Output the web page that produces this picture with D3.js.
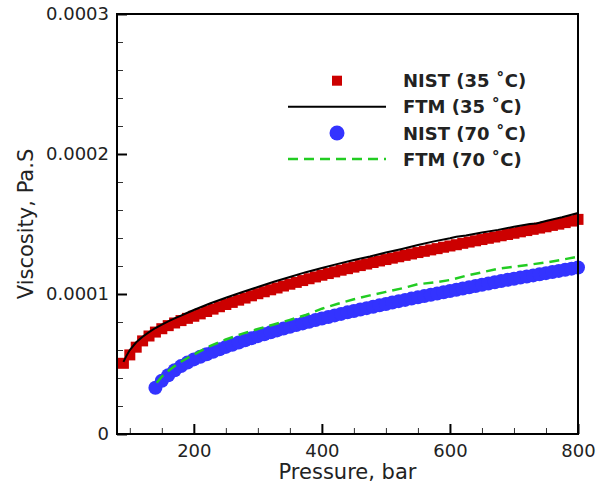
<!DOCTYPE html>
<html>
<head>
<meta charset="utf-8">
<script src="https://cdn.jsdelivr.net/npm/d3@7"></script>
<style>
  html, body { margin: 0; padding: 0; background: #fff; }
  svg { display: block; }
  text { font-family: "DejaVu Sans", sans-serif; fill: #222; }
</style>
</head>
<body>
<svg id="chart" width="598" height="489"></svg>
<script>
// ---------- data (viscosity in Pa.s, pressure in bar) ----------
const nist35P = [90,100,110,120,130,140,150,160,170,180,190,200,210,220,230,240,250,260,270,280,290,300,310,320,330,340,350,360,370,380,390,400,410,420,430,440,450,460,470,480,490,500,510,520,530,540,550,560,570,580,590,600,610,620,630,640,650,660,670,680,690,700,710,720,730,740,750,760,770,780,790,800];
const nist35V = [0.505,0.565,0.62,0.665,0.70,0.728,0.752,0.774,0.793,0.810,0.826,0.841,0.858,0.875,0.892,0.909,0.925,0.940,0.956,0.971,0.987,1.002,1.016,1.030,1.043,1.057,1.070,1.083,1.096,1.109,1.122,1.134,1.146,1.158,1.170,1.181,1.192,1.203,1.214,1.225,1.236,1.246,1.256,1.266,1.276,1.286,1.296,1.305,1.315,1.324,1.334,1.343,1.352,1.362,1.371,1.380,1.389,1.398,1.407,1.416,1.425,1.434,1.444,1.453,1.462,1.471,1.480,1.490,1.499,1.510,1.521,1.533];

const ftm35P = [90,95,100,110,120,130,140,150,160,170,180,190,200,225,250,275,300,325,350,375,400,425,450,475,500,525,550,575,600,610,625,650,675,700,725,735,750,775,800];
const ftm35V = [0.515,0.56,0.60,0.655,0.695,0.728,0.757,0.782,0.805,0.826,0.846,0.866,0.886,0.932,0.973,1.012,1.050,1.087,1.121,1.156,1.186,1.215,1.243,1.268,1.296,1.322,1.350,1.376,1.398,1.409,1.418,1.440,1.458,1.480,1.500,1.504,1.522,1.548,1.578];

const nist70P = [140,150,160,170,180,190,200,210,220,230,240,250,260,270,280,290,300,310,320,330,340,350,360,370,380,390,400,410,420,430,440,450,460,470,480,490,500,510,520,530,540,550,560,570,580,590,600,610,620,630,640,650,660,670,680,690,700,710,720,730,740,750,760,770,780,790,800];
const nist70V = [0.33,0.38,0.42,0.455,0.485,0.51,0.533,0.552,0.570,0.588,0.605,0.622,0.638,0.654,0.669,0.684,0.699,0.713,0.727,0.740,0.753,0.766,0.778,0.790,0.802,0.814,0.825,0.836,0.847,0.858,0.869,0.879,0.889,0.899,0.909,0.919,0.929,0.939,0.949,0.958,0.967,0.976,0.985,0.994,1.003,1.012,1.021,1.030,1.039,1.048,1.057,1.066,1.075,1.084,1.093,1.101,1.109,1.117,1.125,1.133,1.141,1.149,1.157,1.165,1.173,1.181,1.189];

const ftm70P = [142,150,160,170,180,190,200,225,250,275,300,325,350,375,400,425,450,475,500,525,550,575,600,625,650,675,700,725,750,775,800];
const ftm70V = [0.366,0.41,0.45,0.485,0.516,0.543,0.568,0.627,0.675,0.715,0.75,0.782,0.815,0.85,0.895,0.93,0.962,0.99,1.015,1.04,1.07,1.082,1.10,1.13,1.155,1.18,1.195,1.21,1.225,1.245,1.266];

const unit = 1e-4; // values above are in units of 1e-4 Pa.s

const xMajor = [200, 400, 600, 800];
const xMinor = [100,150,250,300,350,450,500,550,650,700,750];
const yMajor = [0, 0.0001, 0.0002, 0.0003];
const yMajorLabels = ["0", "0.0001", "0.0002", "0.0003"];
const yMinor = [0.00002,0.00004,0.00006,0.00008,0.00012,0.00014,0.00016,0.00018,0.00022,0.00024,0.00026,0.00028];

const legendLabels = ["NIST (35 \u02DAC)", "FTM (35 \u02DAC)", "NIST (70 \u02DAC)", "FTM (70 \u02DAC)"];
const xTitle = "Pressure, bar";
const yTitle = "Viscosity, Pa.S";

// ---------- styles ----------
const red = "#cc0000", blue = "#3333ff", green = "#22cc22", black = "#000";

// ---------- layout ----------
const svg = d3.select("#chart");
const L = 117, R = 578, T = 14, B = 434;
const x = d3.scaleLinear().domain([80, 800]).range([L, R]);
const y = d3.scaleLinear().domain([0, 0.0003]).range([B, T]);

const zip = (P, V) => P.map((p, i) => ({p, v: V[i] * unit}));
const n35 = zip(nist35P, nist35V), f35 = zip(ftm35P, ftm35V);
const n70 = zip(nist70P, nist70V), f70 = zip(ftm70P, ftm70V);

// NIST 35 squares
const sq = 11;
svg.append("g").selectAll("rect").data(n35).join("rect")
  .attr("x", d => x(d.p) - sq/2).attr("y", d => y(d.v) - sq/2)
  .attr("width", sq).attr("height", sq).attr("fill", red);

// FTM 35 line
const line = d3.line().x(d => x(d.p)).y(d => y(d.v));
svg.append("path").datum(f35).attr("d", line)
  .attr("fill", "none").attr("stroke", black).attr("stroke-width", 2);

// NIST 70 circles
svg.append("g").selectAll("circle").data(n70).join("circle")
  .attr("cx", d => x(d.p)).attr("cy", d => y(d.v)).attr("r", 7).attr("fill", blue);

// FTM 70 dashed
svg.append("path").datum(f70).attr("d", line)
  .attr("fill", "none").attr("stroke", green).attr("stroke-width", 2.5)
  .attr("stroke-dasharray", "10,6");

// ---------- axes ----------
const xAxisMaj = d3.axisBottom(x).tickValues(xMajor).tickSizeInner(-10).tickSizeOuter(0).tickPadding(10);
const gx = svg.append("g").attr("transform", `translate(0,${B})`).call(xAxisMaj);
gx.select(".domain").remove();
gx.selectAll(".tick line").attr("stroke", black).attr("stroke-width", 2);
gx.selectAll(".tick text").attr("font-size", 18).attr("font-family", "DejaVu Sans").attr("fill", "#222");

const xAxisMin = d3.axisBottom(x).tickValues(xMinor).tickSizeInner(-6).tickSizeOuter(0).tickFormat("");
const gxm = svg.append("g").attr("transform", `translate(0,${B})`).call(xAxisMin);
gxm.select(".domain").remove();
gxm.selectAll(".tick line").attr("stroke", "#333").attr("stroke-width", 1);

const yAxisMaj = d3.axisLeft(y).tickValues(yMajor).tickSizeInner(-10).tickSizeOuter(0).tickPadding(8)
  .tickFormat((d, i) => yMajorLabels[i]);
const gy = svg.append("g").attr("transform", `translate(${L},0)`).call(yAxisMaj);
gy.select(".domain").remove();
gy.selectAll(".tick line").attr("stroke", black).attr("stroke-width", 2);
gy.selectAll(".tick text").attr("font-size", 18).attr("font-family", "DejaVu Sans").attr("fill", "#222");

const yAxisMin = d3.axisLeft(y).tickValues(yMinor).tickSizeInner(-6).tickSizeOuter(0).tickFormat("");
const gym = svg.append("g").attr("transform", `translate(${L},0)`).call(yAxisMin);
gym.select(".domain").remove();
gym.selectAll(".tick line").attr("stroke", "#333").attr("stroke-width", 1);

// frame
svg.append("rect").attr("x", L).attr("y", T).attr("width", R - L).attr("height", B - T)
  .attr("fill", "none").attr("stroke", black).attr("stroke-width", 2);

// titles
svg.append("text").attr("x", (L + R) / 2).attr("y", 479).attr("text-anchor", "middle")
  .attr("font-size", 21).text(xTitle);
svg.append("text").attr("transform", `translate(33,${(T + B) / 2}) rotate(-90)`)
  .attr("text-anchor", "middle").attr("font-size", 21).text(yTitle);

// ---------- legend ----------
const legY = [80.7, 106.7, 133, 159];
const lg = svg.append("g");
lg.append("rect").attr("x", 337 - 5).attr("y", legY[0] - 5).attr("width", 10).attr("height", 10).attr("fill", red);
lg.append("line").attr("x1", 288).attr("x2", 386).attr("y1", legY[1]).attr("y2", legY[1])
  .attr("stroke", black).attr("stroke-width", 2);
lg.append("circle").attr("cx", 337).attr("cy", legY[2]).attr("r", 7.5).attr("fill", blue);
lg.append("line").attr("x1", 288).attr("x2", 386).attr("y1", legY[3]).attr("y2", legY[3])
  .attr("stroke", green).attr("stroke-width", 2.5).attr("stroke-dasharray", "10,6");
legendLabels.forEach((t, i) => {
  lg.append("text").attr("x", 403).attr("y", legY[i] + 6.5)
    .attr("font-size", 18).attr("font-weight", "bold").attr("fill", "#111").text(t);
});
</script>
</body>
</html>
